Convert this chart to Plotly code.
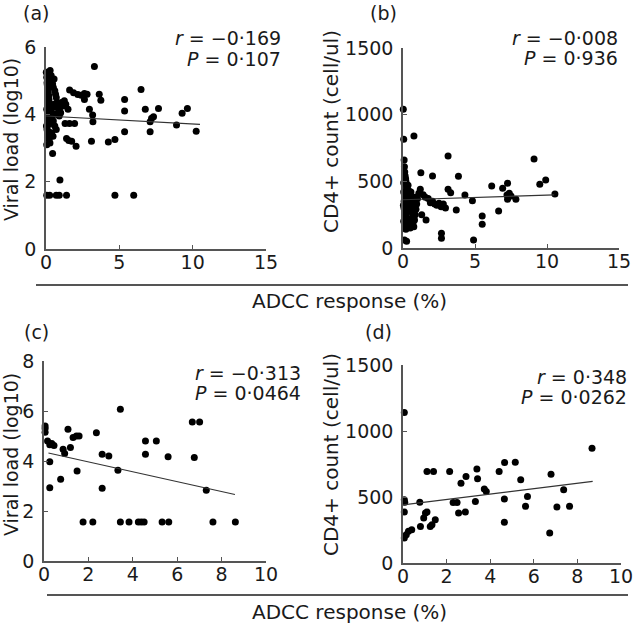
import plotly.graph_objects as go

W, H = 634, 624

# ---------------- data ----------------
# Panel (a): ADCC response (%) vs viral load (log10)
a_x = [0.02, 0.05, 0.08, 0.10, 0.12, 0.15, 0.18, 0.20, 0.22, 0.25, 0.05, 0.10, 0.15, 0.20, 0.25,
       0.03, 0.07, 0.12, 0.17, 0.22, 0.27, 0.05, 0.10, 0.15, 0.20, 0.08, 0.13, 0.18, 0.23, 0.28,
       0.35, 0.40, 0.45, 0.50, 0.55, 0.60, 0.65, 0.70, 0.75, 0.80, 0.85, 0.35, 0.45, 0.55, 0.65,
       0.40, 0.50, 0.60, 0.70, 0.38, 0.48,
       0.95, 1.05, 1.15, 1.25, 1.35, 1.50, 1.00, 0.90,
       1.61, 1.88, 2.17, 2.40, 2.62, 2.80, 2.62,
       1.30, 1.60, 1.95, 1.40, 1.55, 1.75, 2.05, 0.45, 0.95,
       0.05, 0.25, 0.70, 0.90, 1.40, 4.70, 5.98,
       3.30, 2.96, 3.18, 3.20, 3.10, 3.63, 3.74, 4.25, 4.70, 5.36, 5.36, 5.36, 6.48, 6.77, 7.10,
       7.20, 7.33, 7.10, 7.67, 8.90, 9.28, 9.64, 10.24]
a_y = [5.25, 5.10, 4.95, 4.85, 4.75, 4.65, 4.55, 4.45, 4.35, 4.25, 4.15, 4.05, 3.95, 3.85, 3.75,
       3.65, 3.55, 3.45, 3.35, 3.25, 3.15, 3.10, 3.30, 3.50, 3.70, 4.90, 4.60, 4.30, 4.00, 5.30,
       5.15, 5.00, 4.90, 4.80, 5.05, 4.70, 4.60, 4.50, 4.35, 4.25, 4.15, 4.10, 4.20, 4.30, 4.00,
       3.90, 3.80, 3.65, 3.55, 3.45, 3.35,
       4.20, 4.35, 4.25, 4.40, 4.30, 4.15, 4.05, 3.95,
       4.72, 4.64, 4.59, 4.57, 4.62, 4.60, 4.44,
       3.73, 3.73, 3.73, 3.28, 3.22, 3.20, 3.05, 2.84, 2.05,
       1.60, 1.60, 1.60, 1.60, 1.60, 1.60, 1.60,
       5.42, 4.15, 3.98, 3.78, 3.20, 4.60, 4.42, 3.18, 3.25, 4.44, 4.10, 3.48, 4.74, 4.15, 3.78,
       3.88, 3.93, 3.48, 4.17, 3.68, 4.03, 4.17, 3.50]
a_fit_x = [0.0, 10.5]
a_fit_y = [3.95, 3.70]

# Panel (b): ADCC response (%) vs CD4+ count (cell/ul)
b_x = [0.02, 0.05, 0.08, 0.10, 0.12, 0.15, 0.18, 0.20, 0.22, 0.25, 0.28, 0.05, 0.10, 0.15, 0.20,
       0.25, 0.03, 0.07, 0.12, 0.17, 0.22, 0.27, 0.05, 0.10, 0.15, 0.20, 0.25, 0.08, 0.13, 0.18,
       0.10, 0.25, 0.05, 0.15,
       0.35, 0.40, 0.45, 0.50, 0.55, 0.60, 0.65, 0.70, 0.75, 0.80, 0.85, 0.90, 0.95, 1.00, 1.10,
       1.20, 0.40, 0.50, 0.60, 0.70, 0.80, 0.45, 0.55, 0.65, 0.35, 0.75, 0.76,
       1.24, 1.40, 1.55, 1.75, 1.90, 2.05, 2.20, 2.35, 2.50, 2.65, 2.80, 2.95, 1.30, 1.60, 2.05,
       3.13, 3.31, 3.70,
       3.13, 3.85, 4.30, 4.82, 2.67, 2.67, 4.90, 6.16, 6.92, 7.26, 7.22, 7.38, 7.26, 7.50, 7.84,
       6.64, 5.50, 5.50, 9.10, 9.50, 9.91, 10.55]
b_y = [1040, 815, 660, 610, 570, 540, 520, 500, 480, 460, 440, 420, 400, 380, 360,
       340, 320, 300, 280, 260, 240, 220, 200, 180, 160, 140, 450, 350, 310, 270,
       60, 50, 490, 390,
       470, 430, 390, 350, 310, 270, 230, 190, 160, 210, 250, 290, 330, 370, 410,
       440, 180, 150, 200, 260, 380, 320, 420, 340, 280, 300, 840,
       565, 400, 380, 372, 340, 540, 330, 320, 335, 310, 330, 300, 250, 210, 350,
       440, 415, 285,
       690, 538, 398, 355, 110, 73, 60, 465, 448, 485, 398, 410, 365, 390, 365,
       277, 240, 178, 668, 478, 510, 405]
b_fit_x = [0.0, 10.5]
b_fit_y = [362, 398]

# Panel (c)
c_x = [0.05, 0.05, 0.05, 0.16, 0.26, 0.35, 0.45, 0.26, 0.26, 0.86, 0.93, 1.08, 1.19, 1.31, 1.46,
       1.58, 0.75, 1.49, 2.36, 2.62, 2.92, 2.62, 1.76, 2.20, 3.44, 3.33, 3.44, 3.83, 4.25, 4.38,
       4.51, 4.57, 4.57, 5.06, 5.32, 5.62, 5.59, 6.68, 7.01, 6.77, 7.31, 7.61, 8.62]
c_y = [5.40, 5.30, 5.15, 4.80, 4.65, 4.70, 4.62, 3.97, 2.93, 4.47, 4.30, 5.27, 4.54, 4.94, 5.00,
       5.00, 3.27, 3.60, 5.13, 4.27, 4.20, 2.91, 1.56, 1.56, 6.07, 3.63, 1.56, 1.56, 1.56, 1.56,
       1.56, 4.80, 4.27, 4.80, 1.56, 1.56, 4.17, 5.56, 5.56, 4.14, 2.83, 1.56, 1.56]
c_fit_x = [0.2, 8.6]
c_fit_y = [4.32, 2.66]

# Panel (d)
d_x = [0.06, 0.06, 0.08, 0.06, 0.06, 0.15, 0.25, 0.40, 0.77, 0.80, 1.03, 1.10, 0.95, 1.25, 1.33,
       1.48, 1.10, 1.40, 2.14, 2.30, 2.48, 2.55, 2.86, 2.66, 2.89, 3.32, 3.39, 3.42, 3.73, 3.82,
       4.41, 4.66, 4.65, 4.65, 5.15, 5.40, 5.62, 5.71, 6.73, 6.79, 7.06, 7.37, 7.64, 8.67]
d_y = [1140, 479, 461, 386, 189, 214, 240, 252, 461, 277, 378, 386, 340, 277, 290,
       328, 693, 693, 693, 459, 459, 378, 386, 605, 655, 466, 713, 638, 560, 542,
       693, 761, 484, 308, 764, 630, 429, 504, 227, 673, 424, 555, 429, 870]
d_fit_x = [0.0, 8.7]
d_fit_y = [440, 618]

panel_labels = ["(a)", "(b)", "(c)", "(d)"]
stats_r = ["\u22120\u00b7169", "\u22120\u00b7008", "\u22120\u00b7313", "0\u00b7348"]
stats_p = ["0\u00b7107", "0\u00b7936", "0\u00b70464", "0\u00b70262"]
y_titles = ["Viral load (log10)", "CD4+ count (cell/ul)", "Viral load (log10)", "CD4+ count (cell/ul)"]
x_title = "ADCC response (%)"
x_ticks_top = [0, 5, 10, 15]
x_ticks_bottom = [0, 2, 4, 6, 8, 10]
vl_ticks_top = [0, 2, 4, 6]
vl_ticks_bottom = [0, 2, 4, 6, 8]
cd4_ticks = [0, 500, 1000, 1500]

# ---------------- layout helpers ----------------
def px(x):
    return x / W

def py(y):
    return 1 - y / H

FONT = "DejaVu Sans"
TXT = "#1a1a1a"
AX = "#555555"

fig = go.Figure()

panels = [
    dict(x=a_x, y=a_y, fx=a_fit_x, fy=a_fit_y, xd=(46, 266), yd=(249, 47), xr=[0, 15], yr=[0, 6],
         xt=x_ticks_top, yt=vl_ticks_top),
    dict(x=b_x, y=b_y, fx=b_fit_x, fy=b_fit_y, xd=(403, 619), yd=(248, 48), xr=[0, 15], yr=[0, 1500],
         xt=x_ticks_top, yt=cd4_ticks),
    dict(x=c_x, y=c_y, fx=c_fit_x, fy=c_fit_y, xd=(44, 266), yd=(561, 361), xr=[0, 10], yr=[0, 8],
         xt=x_ticks_bottom, yt=vl_ticks_bottom),
    dict(x=d_x, y=d_y, fx=d_fit_x, fy=d_fit_y, xd=(403, 621), yd=(563, 365), xr=[0, 10], yr=[0, 1500],
         xt=x_ticks_bottom, yt=cd4_ticks),
]

layout = dict(
    template="none",
    width=W, height=H,
    margin=dict(l=0, r=0, t=0, b=0, pad=0, autoexpand=False),
    paper_bgcolor="white", plot_bgcolor="white",
    showlegend=False,
    font=dict(family=FONT, size=19, color=TXT),
)

for i, p in enumerate(panels):
    n = "" if i == 0 else str(i + 1)
    xa, ya = "x" + n, "y" + n
    fig.add_trace(go.Scatter(x=p["x"], y=p["y"], mode="markers", xaxis=xa, yaxis=ya,
                             marker=dict(color="black", size=7, line=dict(width=0)), cliponaxis=False))
    fig.add_trace(go.Scatter(x=p["fx"], y=p["fy"], mode="lines", xaxis=xa, yaxis=ya,
                             line=dict(color="#333333", width=1.2), cliponaxis=False))
    common = dict(showgrid=False, zeroline=False, showline=True, linecolor=AX, linewidth=1.5,
                  ticks="inside", ticklen=4, tickcolor=AX, tickwidth=1.2, automargin=False,
                  tickfont=dict(family=FONT, size=19, color=TXT))
    layout["xaxis" + n] = dict(common, domain=[px(p["xd"][0]), px(p["xd"][1])], range=p["xr"],
                               tickvals=p["xt"], anchor=ya, ticklabelstandoff=-5)
    layout["yaxis" + n] = dict(common, domain=[py(p["yd"][0]), py(p["yd"][1])], range=p["yr"],
                               tickvals=p["yt"], anchor=xa, ticklabelstandoff=4)

fig.update_layout(**layout)

ann = []
# panel labels
for lab, (x, y) in zip(panel_labels, [(36, 13), (383, 13), (36, 332), (378, 332)]):
    ann.append(dict(text=lab, x=px(x), y=py(y), xanchor="center", yanchor="middle", size=19))
# statistics
for r, pv, (x, yr, yp) in zip(stats_r, stats_p,
                              [(283, 38, 59), (620, 38, 58), (303, 373, 393), (629, 377, 397)]):
    ann.append(dict(text="<i>r</i> = " + r, x=px(x), y=py(yr), xanchor="right", yanchor="middle", size=19))
    ann.append(dict(text="<i>P</i> = " + pv, x=px(x), y=py(yp), xanchor="right", yanchor="middle", size=19))
# y-axis titles
for t, (x, y), s in zip(y_titles, [(11, 140), (331, 132), (11, 455), (331, 455)], [19, 20, 19, 20]):
    ann.append(dict(text=t, x=px(x), y=py(y), xanchor="center", yanchor="middle", textangle=-90, size=s))
# shared x titles
for y in [301, 612]:
    ann.append(dict(text=x_title, x=px(349), y=py(y), xanchor="center", yanchor="middle", size=20))

for a in ann:
    s = a.pop("size")
    a.update(xref="paper", yref="paper", showarrow=False, font=dict(family=FONT, size=s, color=TXT))
fig.update_layout(annotations=ann)

# long rules under each row
shapes = [
    dict(type="line", xref="paper", yref="paper", x0=px(36), x1=px(628), y0=py(285), y1=py(285),
         line=dict(color=AX, width=2)),
    dict(type="line", xref="paper", yref="paper", x0=px(47), x1=px(628), y0=py(595), y1=py(595),
         line=dict(color=AX, width=2)),
]
fig.update_layout(shapes=shapes)

fig.write_html("out.html", config={"displayModeBar": False},
               post_script="document.body.style.margin='0';document.body.style.overflow='hidden';")
